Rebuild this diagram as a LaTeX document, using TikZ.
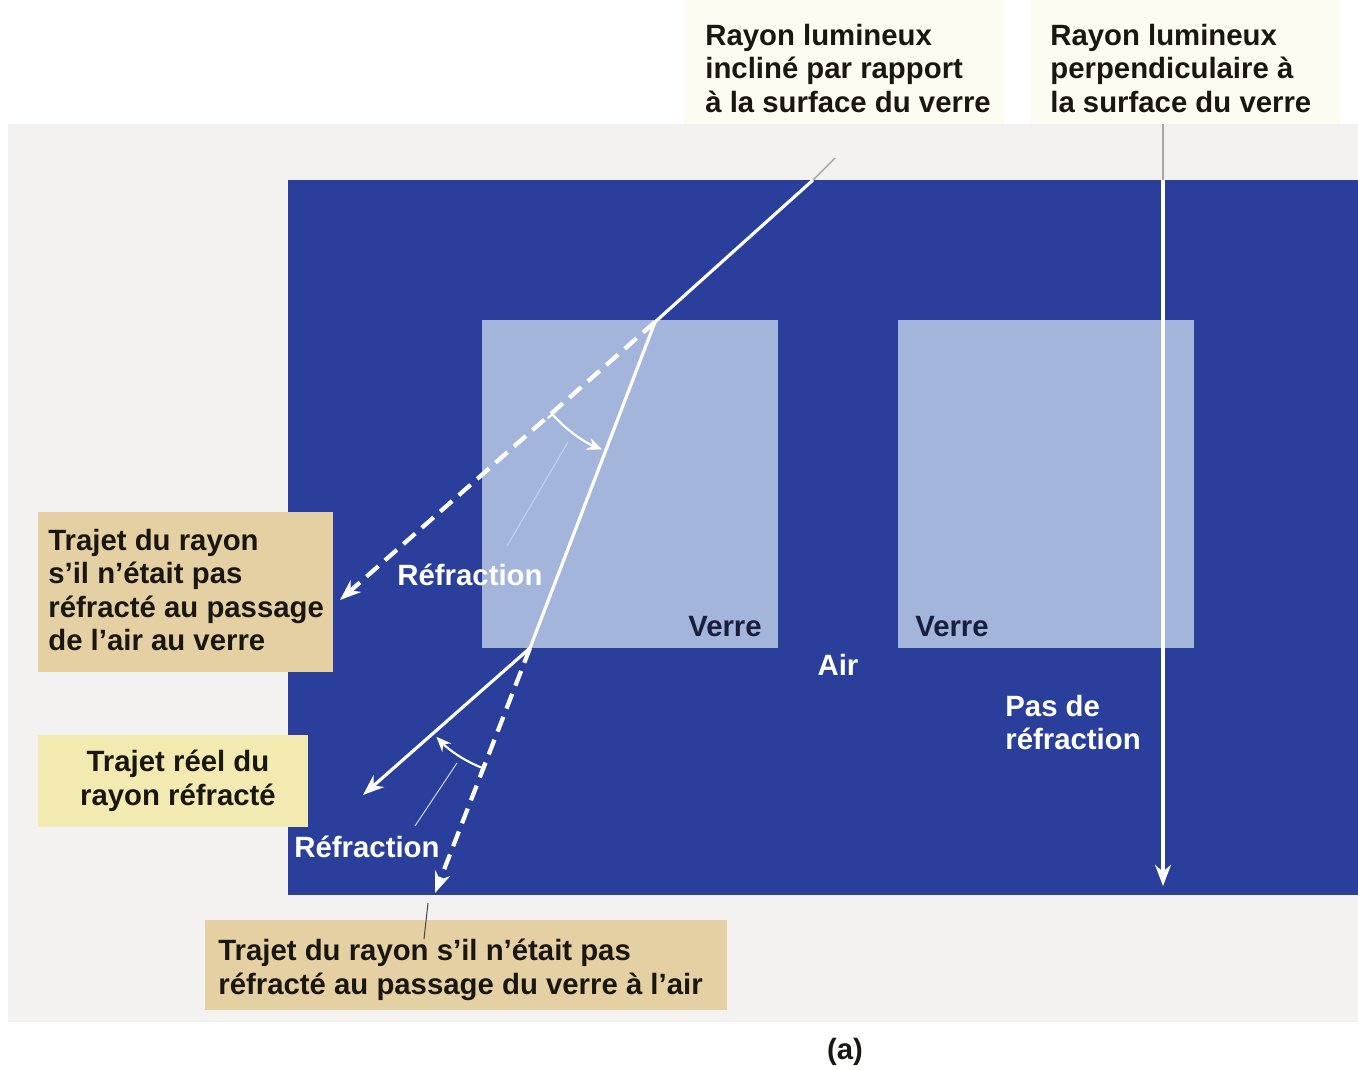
\documentclass[tikz,border=0pt]{standalone}
\usepackage{fontspec}
\setmainfont{Liberation Sans}
\usetikzlibrary{arrows.meta}
\definecolor{AirBlue}{RGB}{42,63,156}
\definecolor{Glass}{RGB}{164,181,220}
\definecolor{Tan}{RGB}{229,208,164}
\definecolor{PaleYellow}{RGB}{242,234,176}
\definecolor{Panel}{RGB}{244,242,241}
\definecolor{Cream}{RGB}{253,252,243}
\definecolor{Ink}{RGB}{26,23,16}
\definecolor{Navy}{RGB}{24,30,60}
\definecolor{Leader}{RGB}{196,208,238}

\begin{document}
\begin{tikzpicture}[x=0.02cm,y=-0.02cm,
  txt/.style={font=\fontsize{16.7}{18.9}\selectfont\bfseries,inner sep=0pt},
  darktxt/.style={txt,text=Ink,align=left},
  whitetxt/.style={txt,text=white,align=left},
  ray/.style={white,line width=1.8pt},
  raydash/.style={white,line width=2.4pt,dash pattern=on 9pt off 5pt},
  tip/.style={-{Stealth[length=12pt,width=9pt]}},
  turn/.style={white,line width=1.2pt,{Bar[width=7pt]}-{Stealth[length=8.5pt,width=7pt]}},
  leader/.style={Leader,line width=0.6pt},
  outside/.style={gray!70,line width=0.8pt}]
  \useasboundingbox (0,0) rectangle (1358,1069);
  % paper, label strips and the air (blue)
  \fill[Panel] (8,124) rectangle (1358,1022);
  \fill[Cream] (684,0) rectangle (1004,124);
  \fill[Cream] (1030,0) rectangle (1340,124);
  \fill[AirBlue] (288,180) rectangle (1358,895);
  % two glass blocks
  \foreach \gx/\nm in {482/glassA,898/glassB}{
    \fill[Glass] (\gx,320) rectangle ++(296,328);
    \coordinate (\nm) at (\gx,320);
  }
  \node[txt,text=Navy] (verreA) at (725,627) {Verre};
  \node[txt,text=Navy] (verreB) at (952,627) {Verre};
  \node[txt,text=white] (air) at (838,665) {Air};
  \node[whitetxt,anchor=north west] (noRefr) at (1005,695) {Pas de\\réfraction};

  % labels above
  \node[darktxt,anchor=north west] (lblIncl) at (705,24)
    {Rayon lumineux\\incliné par rapport\\à la surface du verre};
  \node[darktxt,anchor=north west] (lblPerp) at (1050,24)
    {Rayon lumineux\\perpendiculaire à\\la surface du verre};

  % labels on the left and below
  \fill[Tan] (38,512) rectangle (333,672);
  \node[darktxt,anchor=north west] (lblAirGlass) at (48,529)
    {Trajet du rayon\\s'il n'était pas\\réfracté au passage\\de l'air au verre};
  \fill[PaleYellow] (38,735) rectangle (308,827);
  \node[txt,text=Ink,align=center,anchor=north] (lblReal) at (178,750)
    {Trajet réel du\\rayon réfracté};
  \fill[Tan] (205,920) rectangle (727,1010);
  \node[darktxt,anchor=north west] (lblGlassAir) at (218,939)
    {Trajet du rayon s'il n'était pas\\réfracté au passage du verre à l'air};
  \node[txt,text=Ink] (caption) at (845,1052) {(a)};

  % key points of the rays
  \coordinate (inTop) at (835,158);
  \coordinate (inEdge) at (813,180);
  \coordinate (hitA) at (655,322);
  \coordinate (exitA) at (530,648);
  \coordinate (ghostA) at (340,600);
  \coordinate (realEnd) at (363,795);
  \coordinate (ghostB) at (435,893);
  \coordinate (perpTop) at (1163,124);
  \coordinate (perpEdge) at (1163,180);
  \coordinate (perpEnd) at (1163,886);

  % inclined ray
  \draw[outside] (inTop) -- (inEdge);
  \draw[ray] (inEdge) -- (hitA) -- (exitA);
  \draw[ray,tip] (exitA) -- (realEnd);
  \draw[raydash,tip] (hitA) -- (ghostA);
  \draw[raydash,tip] (exitA) -- (ghostB);
  % perpendicular ray
  \draw[outside] (perpTop) -- (perpEdge);
  \draw[ray,tip] (perpEdge) -- (perpEnd);

  % refraction angles
  \draw[turn] (hitA) ++(138.5:138) arc[start angle=138.5,end angle=112.5,radius=138];
  \draw[turn] (exitA) ++(111.2:129) arc[start angle=111.2,end angle=136.5,radius=129];
  \node[txt,text=white] (refrA) at (470,575) {Réfraction};
  \node[txt,text=white] (refrB) at (367,847) {Réfraction};
  \coordinate (legA) at (568,442);
  \coordinate (legB) at (457,763);
  \draw[leader] (legA) -- (507,546);
  \draw[leader] (legB) -- (415,826);
  \draw[gray!60!black,line width=0.6pt] (428,903) -- (lblGlassAir.north west -| 424,920);
\end{tikzpicture}
\end{document}
